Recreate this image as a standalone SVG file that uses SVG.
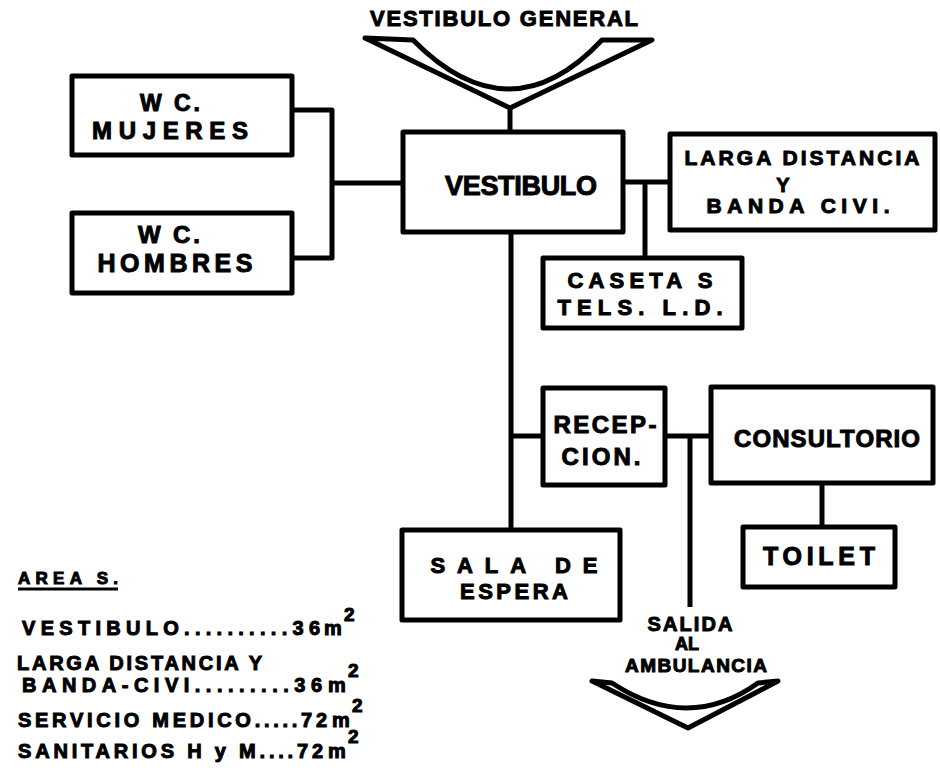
<svg xmlns="http://www.w3.org/2000/svg" width="940" height="771" viewBox="0 0 940 771">
<style>
  .box { fill: #fff; stroke: #000; stroke-width: 5; stroke-linejoin: round; }
  .ln { fill: none; stroke: #000; stroke-width: 5; stroke-linecap: butt; stroke-linejoin: round; }
  .fun { fill: #fff; stroke: #000; stroke-width: 5; stroke-linejoin: round; }
  text { font-family: "Liberation Sans", Arial, sans-serif; font-weight: bold; fill: #000; stroke: #000; stroke-width: 1; }
  .c { text-anchor: middle; }
</style>
<rect x="0" y="0" width="940" height="771" fill="#fff"/>

<g id="connectors">
  <path class="ln" d="M510,106 V132"/>
  <path class="ln" d="M292,110 H332 V258 H292"/>
  <path class="ln" d="M332,183 H403"/>
  <path class="ln" d="M623,182 H670"/>
  <path class="ln" d="M645,182 V258"/>
  <path class="ln" d="M511,232 V530"/>
  <path class="ln" d="M511,436 H543"/>
  <path class="ln" d="M665,436 H711"/>
  <path class="ln" d="M690,436 V607"/>
  <path class="ln" d="M822,483 V527"/>
</g>

<g id="vestibulo-general">
  <path class="fun" d="M365,38 L413,40 Q510,138 602,40 L652,40 L510,108 Z"/>
  <text class="c" x="504" y="26" font-size="22" textLength="268" lengthAdjust="spacing">VESTIBULO GENERAL</text>
</g>

<g id="vestibulo">
  <rect class="box" x="403" y="132" width="220" height="100"/>
  <text class="c" x="521" y="195" font-size="27" textLength="152" lengthAdjust="spacing">VESTIBULO</text>
</g>

<g id="wc-mujeres">
  <rect class="box" x="72" y="76" width="220" height="79"/>
  <text class="c" x="170" y="111" font-size="23" textLength="60" lengthAdjust="spacing">W C.</text>
  <text class="c" x="170" y="139" font-size="24" textLength="156" lengthAdjust="spacing">MUJERES</text>
</g>

<g id="wc-hombres">
  <rect class="box" x="72" y="213" width="220" height="80"/>
  <text class="c" x="169" y="243" font-size="24" textLength="62" lengthAdjust="spacing">W C.</text>
  <text class="c" x="175" y="272" font-size="25" textLength="155" lengthAdjust="spacing">HOMBRES</text>
</g>

<g id="larga-distancia">
  <rect class="box" x="670" y="134" width="265" height="96"/>
  <text class="c" x="802" y="165" font-size="21" textLength="235" lengthAdjust="spacing">LARGA DISTANCIA</text>
  <text class="c" x="783" y="192" font-size="20">Y</text>
  <text class="c" x="798" y="213" font-size="21" textLength="183" lengthAdjust="spacing">BANDA CIVI.</text>
</g>

<g id="casetas">
  <rect class="box" x="543" y="258" width="199" height="70"/>
  <text class="c" x="640" y="288" font-size="22" textLength="145" lengthAdjust="spacing">CASETA S</text>
  <text class="c" x="640" y="315" font-size="22" textLength="165" lengthAdjust="spacing">TELS. L.D.</text>
</g>

<g id="recepcion">
  <rect class="box" x="543" y="388" width="122" height="97"/>
  <text class="c" x="605" y="433" font-size="24" textLength="103" lengthAdjust="spacing">RECEP-</text>
  <text class="c" x="601" y="465" font-size="24" textLength="79" lengthAdjust="spacing">CION.</text>
</g>

<g id="consultorio">
  <rect class="box" x="711" y="387" width="222" height="96"/>
  <text class="c" x="827" y="447" font-size="24" textLength="186" lengthAdjust="spacing">CONSULTORIO</text>
</g>

<g id="toilet">
  <rect class="box" x="743" y="527" width="152" height="60"/>
  <text class="c" x="819" y="565" font-size="25" textLength="112" lengthAdjust="spacing">TOILET</text>
</g>

<g id="sala-de-espera">
  <rect class="box" x="402" y="530" width="218" height="90"/>
  <text class="c" x="514" y="573" font-size="22" textLength="167" lengthAdjust="spacing">SALA DE</text>
  <text class="c" x="514" y="599" font-size="22" textLength="108" lengthAdjust="spacing">ESPERA</text>
</g>

<g id="salida-ambulancia">
  <text class="c" x="690" y="631" font-size="20" textLength="85" lengthAdjust="spacing">SALIDA</text>
  <text class="c" x="687" y="650" font-size="18">AL</text>
  <text class="c" x="696" y="672" font-size="19" textLength="142" lengthAdjust="spacing">AMBULANCIA</text>
  <path class="fun" d="M592,681 L612,683 Q688,733 758,683 L778,681 L688,728 Z"/>
</g>

<g id="areas">
  <text x="18" y="584" font-size="17" textLength="100" lengthAdjust="spacing">AREA S.</text>
  <path d="M18,589 H118" stroke="#000" stroke-width="3"/>
  <text x="22" y="635" font-size="20" textLength="298" lengthAdjust="spacing">VESTIBULO..........36</text>
  <text x="324" y="635" font-size="20">m</text>
  <text x="344" y="621" font-size="19">2</text>
  <text x="17" y="670" font-size="20" textLength="245" lengthAdjust="spacing">LARGA DISTANCIA  Y</text>
  <text x="22" y="692" font-size="20" textLength="300" lengthAdjust="spacing">BANDA-CIVI.........36</text>
  <text x="328" y="692" font-size="20">m</text>
  <text x="348" y="677" font-size="19">2</text>
  <text x="18" y="727" font-size="20" textLength="309" lengthAdjust="spacing">SERVICIO MEDICO.....72</text>
  <text x="332" y="727" font-size="20">m</text>
  <text x="352" y="712" font-size="19">2</text>
  <text x="18" y="758" font-size="20" textLength="305" lengthAdjust="spacing">SANITARIOS H y M....72</text>
  <text x="328" y="758" font-size="20">m</text>
  <text x="348" y="743" font-size="19">2</text>
</g>
</svg>
